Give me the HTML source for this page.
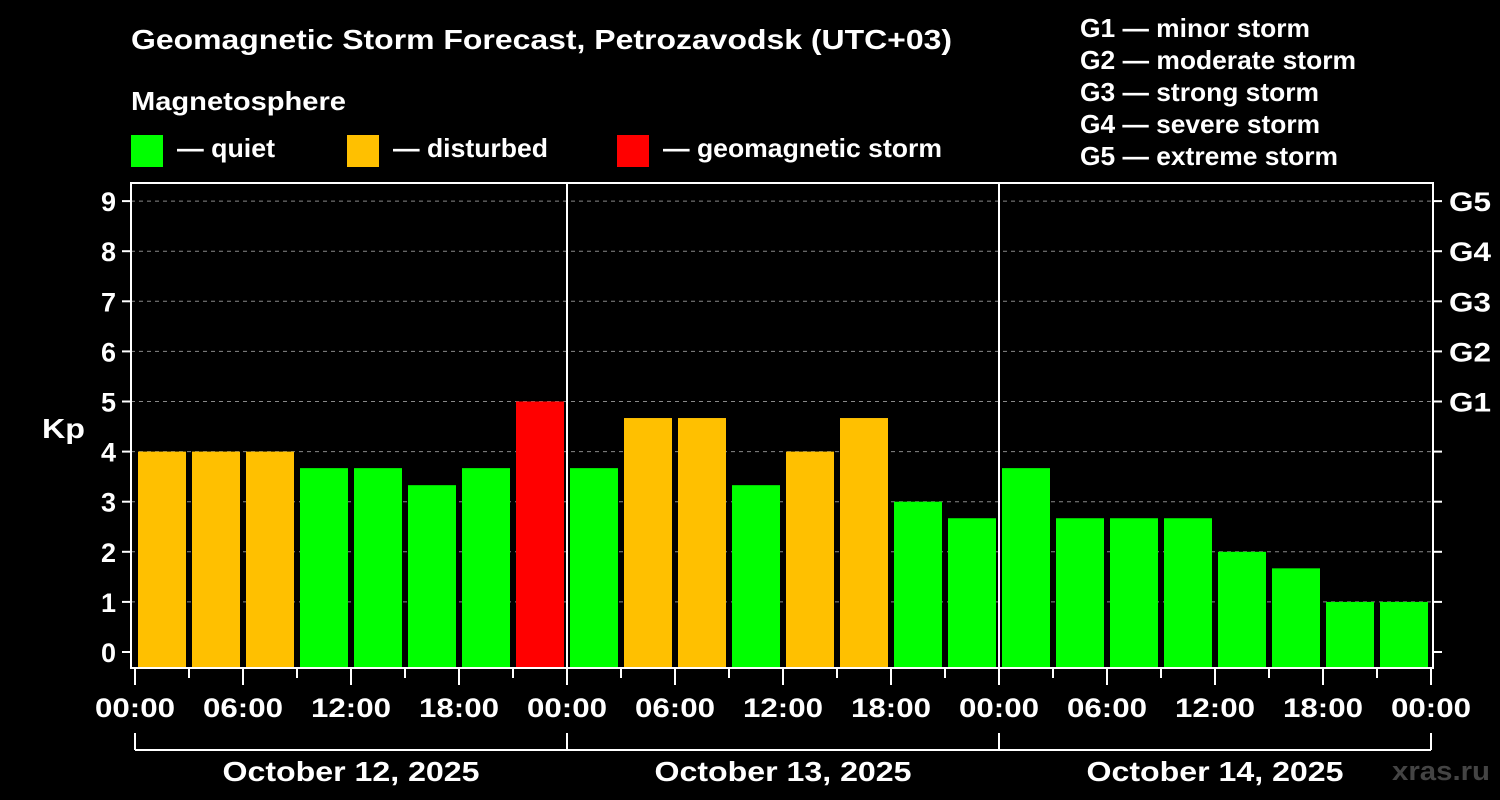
<!DOCTYPE html>
<html><head><meta charset="utf-8"><style>
html,body{margin:0;padding:0;background:#000;}
svg{display:block;font-family:"Liberation Sans",Arial,sans-serif;font-weight:bold;}
</style></head><body>
<svg id="chart" width="1500" height="800" viewBox="0 0 1500 800">
<rect x="0" y="0" width="1500" height="800" fill="#000"/>
<text x="131" y="49" fill="#fff" font-size="28" textLength="821" lengthAdjust="spacingAndGlyphs">Geomagnetic Storm Forecast, Petrozavodsk (UTC+03)</text>
<text x="131" y="110" fill="#fff" font-size="26" textLength="215" lengthAdjust="spacingAndGlyphs">Magnetosphere</text>
<g><rect x="131" y="135" width="32" height="32" fill="#00ff00"/><text x="177" y="157" fill="#fff" font-size="26" textLength="98" lengthAdjust="spacingAndGlyphs">— quiet</text></g>
<g><rect x="347" y="135" width="32" height="32" fill="#ffc000"/><text x="393" y="157" fill="#fff" font-size="26" textLength="155" lengthAdjust="spacingAndGlyphs">— disturbed</text></g>
<g><rect x="617" y="135" width="32" height="32" fill="#ff0000"/><text x="663" y="157" fill="#fff" font-size="26" textLength="279" lengthAdjust="spacingAndGlyphs">— geomagnetic storm</text></g>
<g fill="#fff" font-size="26">
<text x="1080" y="37" textLength="230" lengthAdjust="spacingAndGlyphs">G1 — minor storm</text>
<text x="1080" y="69" textLength="276" lengthAdjust="spacingAndGlyphs">G2 — moderate storm</text>
<text x="1080" y="101" textLength="239" lengthAdjust="spacingAndGlyphs">G3 — strong storm</text>
<text x="1080" y="133" textLength="240" lengthAdjust="spacingAndGlyphs">G4 — severe storm</text>
<text x="1080" y="165" textLength="258" lengthAdjust="spacingAndGlyphs">G5 — extreme storm</text>
</g>
<text x="42" y="438" fill="#fff" font-size="28" textLength="43" lengthAdjust="spacingAndGlyphs">Kp</text>
<text x="1490" y="780" fill="#444" font-size="27" text-anchor="end" textLength="98" lengthAdjust="spacingAndGlyphs">xras.ru</text>
<g id="grid"></g><g id="bars"></g><g id="axes"></g>
</svg>
<script>
const kpValues = [4,4,4,3.67,3.67,3.33,3.67,5, 3.67,4.67,4.67,3.33,4,4.67,3,2.67, 3.67,2.67,2.67,2.67,2,1.67,1,1];
const kpLevels = ["disturbed","disturbed","disturbed","quiet","quiet","quiet","quiet","storm","quiet","disturbed","disturbed","quiet","disturbed","disturbed","quiet","quiet","quiet","quiet","quiet","quiet","quiet","quiet","quiet","quiet"];
const yTicks = [0,1,2,3,4,5,6,7,8,9];
const gLabels = ["G1","G2","G3","G4","G5"];
const gLevels = [5,6,7,8,9];
const timeLabels = ["00:00","06:00","12:00","18:00"];
const dayLabels = ["October 12, 2025","October 13, 2025","October 14, 2025"];

const NS="http://www.w3.org/2000/svg";
const L=131,R=1433,T=183,B=668,X0=135,DAY=432;
const y=v=>652-v*50.1;
const x=slot=>X0+slot*54;
const col={quiet:"#00ff00",disturbed:"#ffc000",storm:"#ff0000"};
function mk(tag,attrs,parent){const e=document.createElementNS(NS,tag);for(const k in attrs)e.setAttribute(k,attrs[k]);parent.appendChild(e);return e;}
const grid=document.getElementById('grid'),bars=document.getElementById('bars'),axes=document.getElementById('axes');
yTicks.forEach(v=>{
  if(v>0){const g=mk('line',{x1:L,x2:R,y1:y(v),y2:y(v),stroke:'#888','stroke-width':1,'stroke-dasharray':'4,4'},grid);
  
  }
  const t=mk('line',{x1:122,x2:L,y1:y(v),y2:y(v),stroke:'#fff','stroke-width':2},axes);
  
  
  const t2=mk('line',{x1:R,x2:1442,y1:y(v),y2:y(v),stroke:'#fff','stroke-width':2},axes);
  
  
  const lb=mk('text',{x:116,y:y(v)+10,fill:'#fff','font-size':27,'text-anchor':'end'},axes);lb.textContent=v;
  
  
});
gLabels.forEach((g,i)=>{
  const lb=mk('text',{x:1449,y:y(gLevels[i])+10,fill:'#fff','font-size':27,textLength:42,lengthAdjust:'spacingAndGlyphs'},axes);lb.textContent=g;
  
  
});
kpValues.forEach((v,i)=>{
  const r=mk('rect',{x:x(i)+3,y:y(v),width:48,height:B-y(v),fill:col[kpLevels[i]]},bars);
  
  
});
mk('rect',{x:L,y:T,width:R-L,height:B-T,fill:'none',stroke:'#fff','stroke-width':2},axes);
for(let d=1;d<dayLabels.length;d++){
  const s=mk('line',{x1:X0+d*DAY,x2:X0+d*DAY,y1:T,y2:B,stroke:'#fff','stroke-width':2},axes);
  
  
}
for(let s=0;s<=kpValues.length;s++){
  const major=s%2===0;
  mk('line',{x1:x(s),x2:x(s),y1:B,y2:major?685:678,stroke:'#fff','stroke-width':2},axes);
  if(major){
    const lb=mk('text',{x:x(s),y:717,fill:'#fff','font-size':27,'text-anchor':'middle',textLength:80,lengthAdjust:'spacingAndGlyphs'},axes);
    lb.textContent=timeLabels[(s/2)%4];
    
    
  }
}
mk('line',{x1:X0,x2:X0+dayLabels.length*DAY,y1:750,y2:750,stroke:'#fff','stroke-width':2},axes);
for(let d=0;d<=dayLabels.length;d++) mk('line',{x1:X0+d*DAY,x2:X0+d*DAY,y1:733,y2:750,stroke:'#fff','stroke-width':2},axes);
dayLabels.forEach((d,i)=>{
  const lb=mk('text',{x:X0+i*DAY+DAY/2,y:781,fill:'#fff','font-size':28,'text-anchor':'middle',textLength:257,lengthAdjust:'spacingAndGlyphs'},axes);lb.textContent=d;
  
  
});
</script>
</body></html>
